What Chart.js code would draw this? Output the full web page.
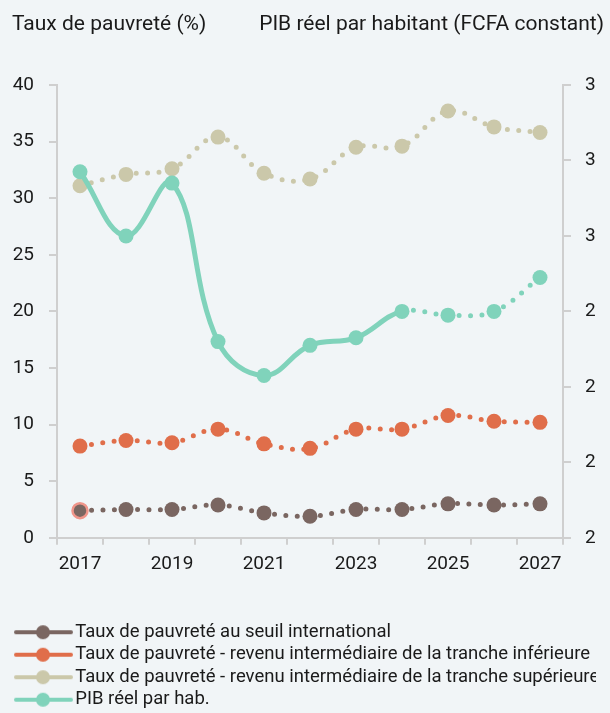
<!DOCTYPE html>
<html lang="fr">
<head>
<meta charset="utf-8">
<script src="https://cdn.jsdelivr.net/npm/chart.js@4.4.1/dist/chart.umd.min.js"></script>
<style>
  html, body { margin: 0; padding: 0; background: #f1f5f7; }
  #wrap { width: 610px; height: 713px; }
</style>
</head>
<body>
<div id="wrap"><canvas id="graphique"></canvas></div>
<script>
//---------------------------------------------------------------------
// DONNÉES
//---------------------------------------------------------------------
const annees = ['2017', '2018', '2019', '2020', '2021', '2022', '2023', '2024', '2025', '2026', '2027'];
const pauvreteInternational = [2.4, 2.5, 2.5, 2.9, 2.2, 1.9, 2.5, 2.5, 3.0, 2.9, 3.0];
const pauvreteInferieure = [8.1, 8.6, 8.4, 9.6, 8.3, 7.9, 9.6, 9.6, 10.8, 10.3, 10.2];
const pauvreteSuperieure = [31.1, 32.1, 32.6, 35.4, 32.2, 31.7, 34.5, 34.6, 37.7, 36.3, 35.8];
const pibParHab = [2.77, 2.60, 2.74, 2.32, 2.23, 2.31, 2.33, 2.40, 2.39, 2.40, 2.49];

const titreGauche = 'Taux de pauvreté (%)';
const titreDroite = 'PIB réel par habitant (FCFA constant)';
const libelles = [
    'Taux de pauvreté au seuil international',
    'Taux de pauvreté - revenu intermédiaire de la tranche inférieure',
    'Taux de pauvreté - revenu intermédiaire de la tranche supérieure',
    'PIB réel par hab.'
];

const couleurs = ['#7a6661', '#e06e4a', '#cbc8aa', '#80d3bb'];
const police = 'Roboto, "DejaVu Sans", sans-serif';
const gris = '#cfcfcf';
const noir = '#1a1a1a';

// marqueur de légende : trait + rond
function marqueur(couleur) {
    const c = document.createElement('canvas');
    c.width = 64; c.height = 16;
    const g = c.getContext('2d');
    g.strokeStyle = couleur;
    g.lineWidth = 4;
    g.lineCap = 'round';
    g.beginPath(); g.moveTo(7, 8); g.lineTo(62, 8); g.stroke();
    g.fillStyle = couleur;
    g.beginPath(); g.arc(34, 8, 7, 0, Math.PI * 2); g.fill();
    return c;
}

// titres des deux axes en haut
const titresAxes = {
    id: 'titresAxes',
    afterDraw(chart) {
        const ctx = chart.ctx;
        ctx.save();
        ctx.font = '21px ' + police;
        ctx.fillStyle = noir;
        ctx.textBaseline = 'middle';
        ctx.textAlign = 'left';
        ctx.fillText(titreGauche, 12, 25);
        ctx.textAlign = 'right';
        ctx.fillText(titreDroite, 604, 25);
        ctx.restore();
    }
};

const pointilles = [0, 11.5];

function serie(label, data, couleur, axe, ordre) {
    return {
        label: label,
        data: data,
        yAxisID: axe,
        order: ordre,
        borderColor: couleur,
        backgroundColor: couleur,
        pointBackgroundColor: couleur,
        borderWidth: 5,
        borderCapStyle: 'round',
        borderDash: pointilles,
        pointRadius: 7.5,
        pointBorderWidth: 0,
        pointHoverRadius: 7.5,
        tension: 0.4,
        fill: false
    };
}

const dsInter = serie(libelles[0], pauvreteInternational, couleurs[0], 'y', 3);
dsInter.pointBorderWidth = ctx => ctx.dataIndex === 0 ? 2.5 : 0;
dsInter.pointBorderColor = ctx => ctx.dataIndex === 0 ? '#f0958a' : couleurs[0];
const dsInf = serie(libelles[1], pauvreteInferieure, couleurs[1], 'y', 2);
const dsSup = serie(libelles[2], pauvreteSuperieure, couleurs[2], 'y', 4);
const dsPib = serie(libelles[3], pibParHab, couleurs[3], 'y1', 1);
dsPib.borderDash = [];
dsPib.segment = {
    borderDash: ctx => ctx.p0DataIndex >= 7 ? pointilles : []
};

new Chart(document.getElementById('graphique'), {
    type: 'line',
    data: {
        labels: annees,
        datasets: [dsInter, dsInf, dsSup, dsPib]
    },
    plugins: [titresAxes],
    options: {
        responsive: true,
        maintainAspectRatio: false,
        animation: false,
        layout: { padding: { top: 85, left: 12, right: 14, bottom: -6 } },
        plugins: {
            tooltip: { enabled: false },
            legend: {
                position: 'bottom',
                align: 'start',
                title: { display: true, text: '', padding: { top: 0, bottom: 21 } },
                labels: {
                    usePointStyle: true,
                    pointStyleWidth: 50,
                    padding: 4,
                    color: noir,
                    font: { family: police, size: 18.5 },
                    generateLabels: chart => chart.data.datasets.map((ds, i) => ({
                        text: ds.label,
                        pointStyle: marqueur(couleurs[i]),
                        fillStyle: couleurs[i],
                        strokeStyle: couleurs[i],
                        lineWidth: 0,
                        fontColor: noir,
                        hidden: false,
                        datasetIndex: i
                    }))
                }
            }
        },
        scales: {
            x: {
                offset: true,
                grid: { offset: true, drawOnChartArea: false, drawTicks: true, tickLength: 7, color: gris, lineWidth: 2 },
                border: { color: gris, width: 2 },
                ticks: {
                    autoSkip: false,
                    maxRotation: 0,
                    color: noir,
                    padding: 8,
                    font: { family: police, size: 19 },
                    callback: function (v, i) { return i % 2 === 0 ? this.getLabelForValue(v) : ''; }
                }
            },
            y: {
                position: 'left',
                min: 0,
                max: 40,
                afterFit: scale => { scale.width = 45; },
                grid: { drawOnChartArea: false, drawTicks: true, tickLength: 8, color: gris, lineWidth: 2 },
                border: { color: gris, width: 2 },
                ticks: {
                    stepSize: 5,
                    color: noir,
                    padding: 15,
                    font: { family: police, size: 19 }
                }
            },
            y1: {
                position: 'right',
                min: 1.8,
                max: 3.0,
                afterFit: scale => { scale.width = 33; },
                grid: { drawOnChartArea: false, drawTicks: true, tickLength: 8, color: gris, lineWidth: 2 },
                border: { color: gris, width: 2 },
                ticks: {
                    stepSize: 0.2,
                    color: noir,
                    padding: 14,
                    font: { family: police, size: 19 },
                    callback: v => Math.round(v).toString()
                }
            }
        }
    }
});
</script>
</body>
</html>
